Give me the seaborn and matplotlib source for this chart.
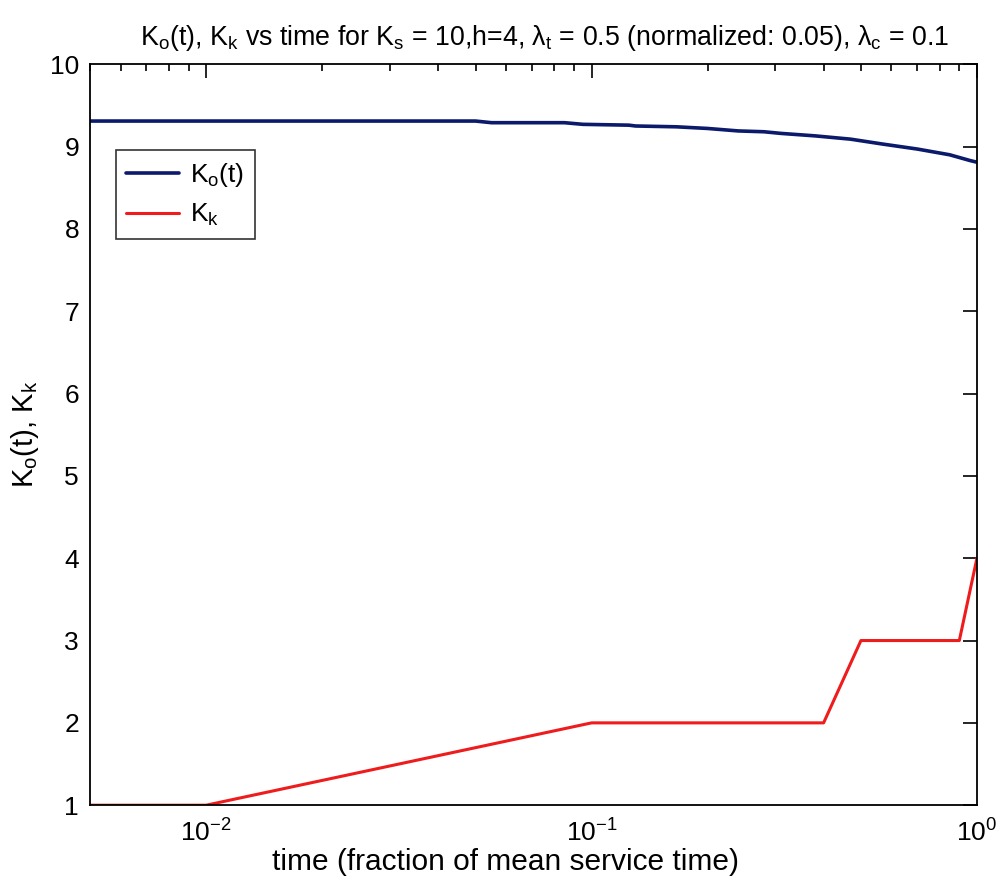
import numpy as np
import pandas as pd
import matplotlib
matplotlib.use("Agg")
import matplotlib.pyplot as plt
import seaborn as sns
from matplotlib.ticker import LogLocator, FixedLocator

# Occupancy K_o(t) over time (fraction of mean service time)
t_occ = [0.005, 0.01, 0.02, 0.05, 0.055, 0.085, 0.095, 0.125, 0.13, 0.166,
         0.2, 0.24, 0.28, 0.31, 0.38, 0.47, 0.57, 0.7, 0.85, 0.96, 1.0]
k_occ = [9.31, 9.31, 9.31, 9.31, 9.29, 9.29, 9.27, 9.26, 9.25, 9.24,
         9.22, 9.19, 9.18, 9.16, 9.13, 9.09, 9.03, 8.97, 8.90, 8.83, 8.81]

# Threshold K_k over time
t_thr = [0.005, 0.01, 0.1, 0.4, 0.5, 0.9, 1.0]
k_thr = [1, 1, 2, 2, 3, 3, 4]

y_ticks = [1, 2, 3, 4, 5, 6, 7, 8, 9, 10]

sns.set_style("white")
plt.rcParams["font.family"] = ["Liberation Sans", "DejaVu Sans"]
plt.rcParams["mathtext.fontset"] = "custom"
plt.rcParams["mathtext.rm"] = "Liberation Sans"
plt.rcParams["mathtext.it"] = "Liberation Sans:italic"
plt.rcParams["mathtext.default"] = "regular"
plt.rcParams["text.color"] = "black"
plt.rcParams["axes.labelcolor"] = "black"

df_occ = pd.DataFrame({"t": t_occ, "k": k_occ})
df_thr = pd.DataFrame({"t": t_thr, "k": k_thr})

fig = plt.figure(figsize=(10.02, 8.80), dpi=100)
ax = fig.add_axes([0.090, 0.085, 0.885, 0.842])

sns.lineplot(data=df_occ, x="t", y="k", ax=ax, color="#0b1a6b", lw=2.6,
             label="K$_o$(t)", sort=False)
sns.lineplot(data=df_thr, x="t", y="k", ax=ax, color="#ee1c1c", lw=2.2,
             label="K$_k$", sort=False)

ax.set_xscale("log")
ax.set_xlim(0.005, 1.0)
ax.set_ylim(1, 10)
ax.yaxis.set_major_locator(FixedLocator(y_ticks))
ax.xaxis.set_major_locator(LogLocator(base=10, numticks=10))
ax.xaxis.set_minor_locator(LogLocator(base=10, subs=np.arange(2, 10), numticks=20))

ax.tick_params(which="both", direction="in", top=True, right=True,
               labelsize=19, colors="black")
ax.tick_params(axis="x", which="major", pad=10)
ax.tick_params(axis="y", which="major", pad=8)
ax.tick_params(which="major", length=10, width=1.2)
ax.tick_params(which="minor", length=5, width=1.2)
for s in ax.spines.values():
    s.set_linewidth(1.3)
    s.set_color("black")

ax.set_xlabel("time (fraction of mean service time)", fontsize=21.5,
              labelpad=4, color="black")
ax.xaxis.set_label_coords(0.468, -0.058)
ax.set_ylabel("K$_o$(t), K$_k$", fontsize=21, labelpad=6, color="black")
ax.set_title("K$_o$(t), K$_k$ vs time for K$_s$ = 10,h=4, $\\lambda_t$ = 0.5 "
             "(normalized: 0.05), $\\lambda_c$ = 0.1", fontsize=19.3, pad=14,
             x=0.512, color="black")

leg = ax.legend(loc="upper left", bbox_to_anchor=(0.029, 0.884), fontsize=19,
                frameon=True, fancybox=False, edgecolor="black",
                borderaxespad=0, handlelength=2.0, handletextpad=0.4,
                borderpad=0.4, labelspacing=0.5)
leg.get_frame().set_linewidth(1.2)
for txt in leg.get_texts():
    txt.set_color("black")

fig.savefig("out.png", dpi=100, facecolor="white")
